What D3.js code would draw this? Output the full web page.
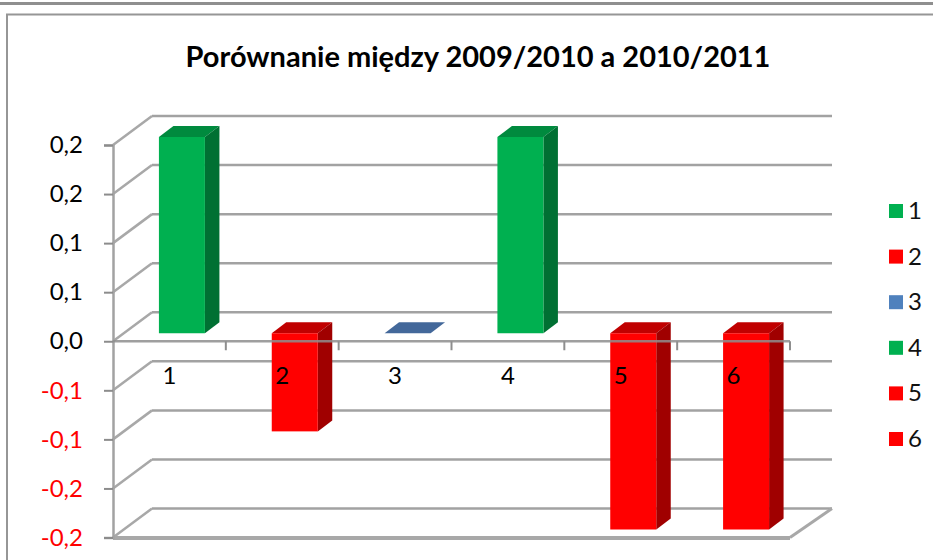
<!DOCTYPE html>
<html>
<head>
<meta charset="utf-8">
<script src="https://cdn.jsdelivr.net/npm/d3@7"></script>
<style>
  html, body { margin: 0; padding: 0; background: #fff; }
  svg { display: block; }
  text { font-family: Lato, "Open Sans", sans-serif; }
</style>
</head>
<body>
<svg width="933" height="560"></svg>
<script>
"use strict";

var categories = ["1", "2", "3", "4", "5", "6"];
var values = [0.2, -0.1, 0, 0.2, -0.2, -0.2];
var yTicks = [0.2, 0.15, 0.1, 0.05, 0, -0.05, -0.1, -0.15, -0.2];
var yLabels = ["0,2", "0,2", "0,1", "0,1", "0,0", "-0,1", "-0,1", "-0,2", "-0,2"];
var chartTitle = "Porównanie między 2009/2010 a 2010/2011";

var svg = d3.select("svg");

// colours by sign of the value, 3 shades for the faces of the column
var palette = {
  up: { front: "#00b050", top: "#008a3e", side: "#007033" },
  down: { front: "#ff0000", top: "#c00000", side: "#a00000" },
  zero: { front: "#4f81bd", top: "#43689a", side: "#43689a" }
};
function shades(v) {
  return v > 0 ? palette.up : v < 0 ? palette.down : palette.zero;
}

var gridColor = "#a2a2a2";
var labelSize = 24;

var x = d3.scaleBand().domain(categories).range([113, 790]);
var y = d3.scaleLinear().domain([-0.2, 0.2]).range([537.5, 145]);

// fake 3d offsets
var wallDx = 39, wallDy = -29;
var barDx = 12.5, barDy = -8;
var depthDx = 14.5, depthDy = -11;
var barWidth = 46;

// frame of the pasted picture
svg.append("rect").attr("x", 0).attr("y", 2).attr("width", 933).attr("height", 3).attr("fill", "#8f8f8f");
svg.append("rect").attr("x", 7).attr("y", 14.5).attr("width", 940).attr("height", 600)
  .attr("fill", "#fff").attr("stroke", "#969696").attr("stroke-width", 2);

svg.append("text")
  .attr("x", 478).attr("y", 67)
  .attr("text-anchor", "middle")
  .attr("font-size", 29).attr("font-weight", 700)
  .attr("fill", "#000")
  .text(chartTitle);

// back wall
var walls = svg.append("g");
walls.selectAll("line.back").data(yTicks).enter().append("line")
  .attr("class", "back")
  .attr("x1", 113 + wallDx).attr("x2", 832)
  .attr("y1", function (d) { return y(d) + wallDy; })
  .attr("y2", function (d) { return y(d) + wallDy; })
  .attr("stroke", gridColor).attr("stroke-width", 2.5);
walls.selectAll("line.diag").data(yTicks).enter().append("line")
  .attr("class", "diag")
  .attr("x1", 113).attr("x2", 113 + wallDx)
  .attr("y1", function (d) { return y(d); })
  .attr("y2", function (d) { return y(d) + wallDy; })
  .attr("stroke", "#a8a8a8").attr("stroke-width", 2.5);

// floor
walls.append("line")
  .attr("x1", 113).attr("x2", 790)
  .attr("y1", y(-0.2) + 0.5).attr("y2", y(-0.2) + 0.5)
  .attr("stroke", "#a8a8a8").attr("stroke-width", 4);
walls.append("line")
  .attr("x1", 790).attr("x2", 790 + 42)
  .attr("y1", y(-0.2)).attr("y2", y(-0.2) + wallDy)
  .attr("stroke", "#a8a8a8").attr("stroke-width", 3);

// columns
var bars = svg.append("g").selectAll("g").data(values).enter().append("g");

function barLeft(d, i) {
  return x(categories[i]) + x.bandwidth() / 2 + barDx - barWidth / 2;
}
function barTop(d) {
  return y(Math.max(d, 0)) + barDy;
}
function barBottom(d) {
  return y(Math.min(d, 0)) + barDy;
}

bars.append("path")
  .attr("fill", function (d) { return shades(d).top; })
  .attr("d", function (d, i) {
    var l = barLeft(d, i), t = barTop(d);
    return "M" + l + "," + t + "l" + depthDx + "," + depthDy + "h" + barWidth + "l" + (-depthDx) + "," + (-depthDy) + "Z";
  });
bars.append("path")
  .attr("fill", function (d) { return shades(d).side; })
  .attr("d", function (d, i) {
    var r = barLeft(d, i) + barWidth, t = barTop(d), h = barBottom(d) - t;
    return "M" + r + "," + t + "l" + depthDx + "," + depthDy + "v" + h + "l" + (-depthDx) + "," + (-depthDy) + "Z";
  });
bars.append("rect")
  .attr("x", barLeft)
  .attr("y", barTop)
  .attr("width", barWidth)
  .attr("height", function (d) { return barBottom(d) - barTop(d); })
  .attr("fill", function (d) { return shades(d).front; });

// y axis
var yAxis = d3.axisLeft(y)
  .tickValues(yTicks)
  .tickSize(9)
  .tickPadding(21)
  .tickFormat(function (d, i) { return yLabels[i]; });
var yG = svg.append("g").attr("transform", "translate(113,0)").call(yAxis);
yG.select(".domain").attr("stroke", gridColor).attr("stroke-width", 2.5);
yG.selectAll(".tick line").attr("stroke", "#8c8c8c").attr("stroke-width", 2);
yG.selectAll(".tick text")
  .attr("font-family", "Lato")
  .attr("font-size", labelSize)
  .attr("fill", function (d) { return d < 0 ? "#ff0000" : "#000"; });

// zero line and category ticks sit over the columns
var zero = svg.append("g").attr("transform", "translate(0," + y(0) + ")");
zero.append("line")
  .attr("x1", 113).attr("x2", 790)
  .attr("stroke", "#8e8e8e").attr("stroke-opacity", 0.85).attr("stroke-width", 2.5);
zero.selectAll("line.tick").data(categories).enter().append("line")
  .attr("class", "tick")
  .attr("x1", function (d) { return x(d) + x.bandwidth(); })
  .attr("x2", function (d) { return x(d) + x.bandwidth(); })
  .attr("y1", 0).attr("y2", 9)
  .attr("stroke", "#8e8e8e").attr("stroke-width", 2);
zero.selectAll("text").data(categories).enter().append("text")
  .attr("x", function (d) { return x(d) + x.bandwidth() / 2; })
  .attr("y", 43)
  .attr("text-anchor", "middle")
  .attr("font-size", labelSize)
  .attr("fill", "#000")
  .text(function (d) { return d; });

// legend
var legendY = d3.scalePoint().domain(categories).range([211, 439]);
var legend = svg.append("g").selectAll("g").data(categories).enter().append("g")
  .attr("transform", function (d) { return "translate(889," + legendY(d) + ")"; });
legend.append("rect")
  .attr("x", 0).attr("y", -7)
  .attr("width", 14).attr("height", 14)
  .attr("fill", function (d, i) { return shades(values[i]).front; });
legend.append("text")
  .attr("x", 19).attr("y", 8)
  .attr("font-size", labelSize)
  .attr("fill", "#111")
  .text(function (d) { return d; });
</script>
</body>
</html>
